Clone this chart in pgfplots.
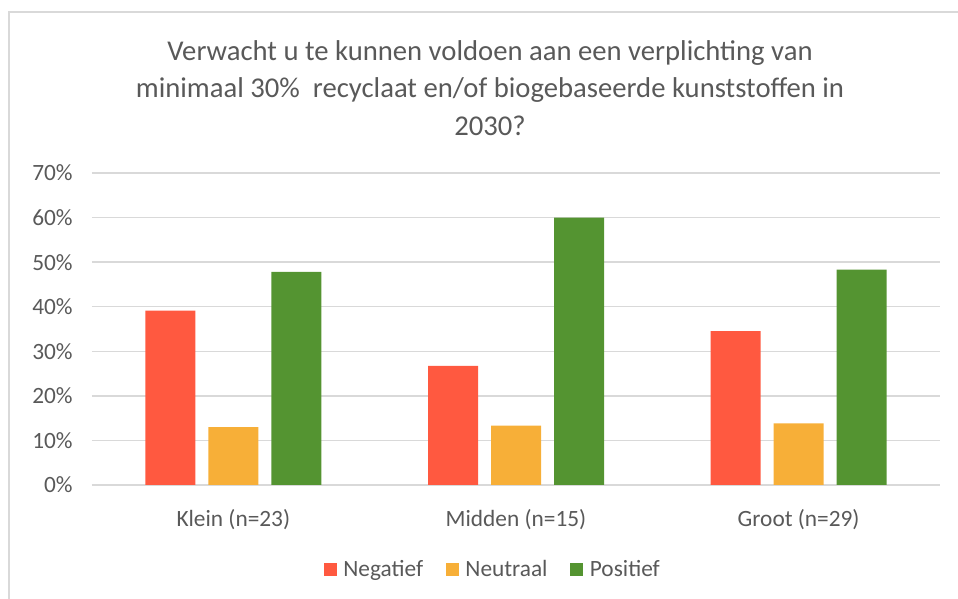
\documentclass[border=0pt]{standalone}
\usepackage{fontspec}
\setmainfont{Carlito}
\usepackage{pgfplots}
\pgfplotsset{compat=1.18}
\definecolor{Neg}{RGB}{255,89,64}
\definecolor{Neu}{RGB}{247,175,56}
\definecolor{Pos}{RGB}{84,148,49}
\definecolor{TextGray}{RGB}{89,89,89}
\definecolor{GridGray}{RGB}{217,217,217}

\begin{document}
\begin{tikzpicture}[x=0.75pt,y=0.75pt]
  % fixed page = 958 x 599 px
  \useasboundingbox (0,0) rectangle (958,599);
  % chart frame (right/bottom edges fall outside the crop)
  \draw[GridGray,line width=1pt] (9,-20) -- (9,587) -- (980,587);

  \node[align=center,text=TextGray,font=\fontsize{21.5}{28}\selectfont]
    at (490,511) {Verwacht u te kunnen voldoen aan een verplichting van\\
    minimaal 30\%\ \ recyclaat en/of biogebaseerde kunststoffen in\\2030?};

  \begin{axis}[
    at={(69pt,85.5pt)}, anchor=south west,
    scale only axis,
    width=636pt, height=234pt,
    ybar=9.75pt, bar width=37.5pt,
    xmin=-0.5, xmax=2.5,
    ymin=0, ymax=0.70,
    xtick=data,
    xticklabels={Klein (n=23),Midden (n=15),Groot (n=29)},
    ytick={0,0.1,...,0.71},
    yticklabel={\pgfmathparse{\tick*100}\pgfmathprintnumber[fixed,precision=0]{\pgfmathresult}\%},
    /pgf/number format/assume math mode=true,
    tick label style={font=\fontsize{17.5}{20}\selectfont,text=TextGray},
    yticklabel style={xshift=-11pt},
    xticklabel style={yshift=-14.5pt},
    major tick length=0pt,
    axis line style={draw=none},
    ymajorgrids,
    major grid style={draw=GridGray,line width=1pt},
    legend columns=3,
    legend style={at={(0.473,-0.272)},anchor=center,draw=none,
      font=\fontsize{17.5}{20}\selectfont,text=TextGray,
      /tikz/every odd column/.append style={column sep=3pt},
      /tikz/every even column/.append style={column sep=15pt}},
    legend image code/.code={\fill[#1] (0pt,-4.9pt) rectangle (9.75pt,4.9pt);},
  ]
    \addplot[fill=Neg,draw=none] coordinates {(0,0.391) (1,0.267) (2,0.345)};
    \addplot[fill=Neu,draw=none] coordinates {(0,0.130) (1,0.133) (2,0.138)};
    \addplot[fill=Pos,draw=none] coordinates {(0,0.478) (1,0.600) (2,0.483)};
    \legend{Negatief,Neutraal,Positief}
  \end{axis}
\end{tikzpicture}
\end{document}
